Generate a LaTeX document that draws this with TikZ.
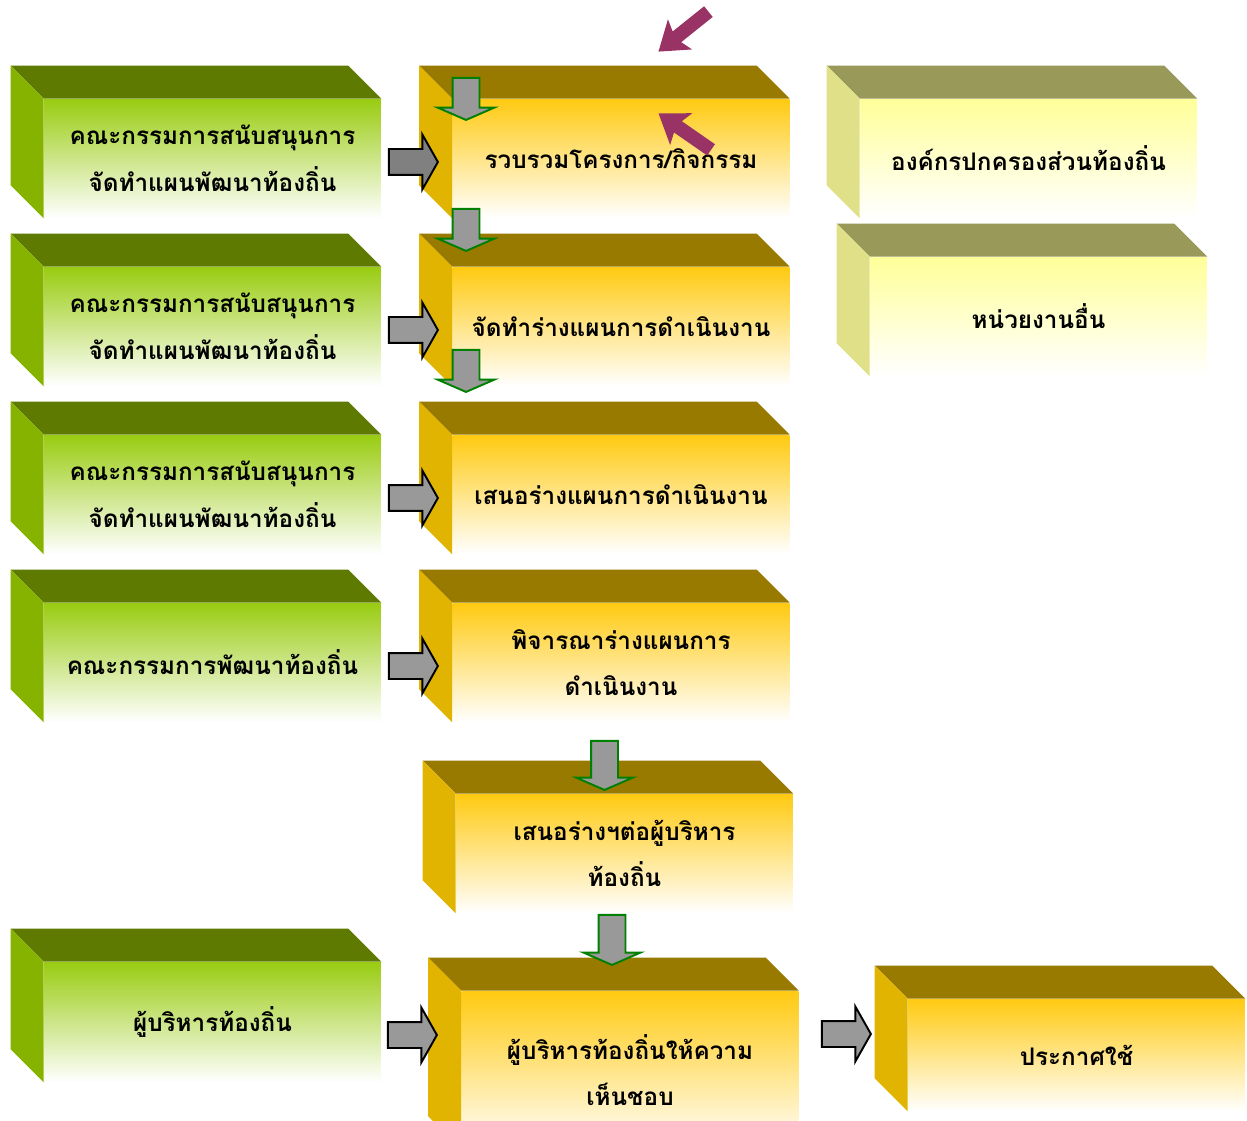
\documentclass[tikz,border=0pt]{standalone}
\usepackage{fontspec}
\newfontfamily\thaifont[Script=Thai]{Loma}
\usetikzlibrary{shapes.arrows}

\definecolor{gtop}{HTML}{5E7A00}
\definecolor{gside}{HTML}{86B300}
\definecolor{gfront}{HTML}{99CC11}
\definecolor{otop}{HTML}{997A00}
\definecolor{oside}{HTML}{E0B400}
\definecolor{ofront}{HTML}{FFCA11}
\definecolor{ytop}{HTML}{999959}
\definecolor{yside}{HTML}{E0E088}
\definecolor{yfront}{HTML}{FFFF99}
\definecolor{darkgray}{HTML}{808080}
\definecolor{lightgray}{HTML}{999999}
\definecolor{linegreen}{HTML}{008000}
\definecolor{plum}{HTML}{993366}

\begin{document}
\begin{tikzpicture}
  [
  x=0.02cm, y=-0.02cm,
  font=\thaifont\bfseries\fontsize{13.8}{26.5}\selectfont,
  front/.style={rectangle, inner sep=0pt, minimum width=6.74cm, minimum height=2.38cm, align=center},
  greenbox/.style={front, top color=gfront, bottom color=white},
  orangebox/.style={front, top color=ofront, bottom color=white},
  yellowbox/.style={front, top color=yfront, bottom color=white},
  rarrow/.style={single arrow, draw=black, line width=1.1pt, fill=lightgray, inner xsep=0pt, inner ysep=0.24cm,
    minimum height=0.98cm, single arrow head extend=0.29cm, single arrow tip angle=121, anchor=tip},
  darrow/.style={single arrow, draw=linegreen, line width=1.1pt, fill=lightgray, inner xsep=0pt, inner ysep=0.25cm,
    minimum height=0.84cm, single arrow head extend=0.3cm, single arrow tip angle=133, rotate=-90, anchor=tip},
  parrow/.style={single arrow, fill=plum, inner xsep=0pt, inner ysep=0.13cm, minimum height=1.28cm,
    single arrow head extend=0.25cm, single arrow tip angle=70, single arrow head indent=0.08cm, anchor=tip},
  ]

  \useasboundingbox (0,0) rectangle (1247,1121);

  % left column
  \foreach \y in {1,2,3} {
    \node[greenbox] (g\y) at (212.5,158.5+168*\y-168) {คณะกรรมการสนับสนุนการ\\จัดทำแผนพัฒนาท้องถิ่น};
  }
  \node[greenbox] (g4) at (212.5,662.5) {คณะกรรมการพัฒนาท้องถิ่น};
  \node[greenbox, minimum height=2.4cm] (g5) at (212.5,1022) {ผู้บริหารท้องถิ่น};

  % middle column
  \node[orangebox] (o1) at (621,158.5) {รวบรวมโครงการ/กิจกรรม};
  \node[orangebox] (o2) at (621,326.5) {จัดทำร่างแผนการดำเนินงาน};
  \node[orangebox] (o3) at (621,494.5) {เสนอร่างแผนการดำเนินงาน};
  \node[orangebox] (o4) at (621,662.5) {พิจารณาร่างแผนการ\\ดำเนินงาน};
  \node[orangebox] (o5) at (624.5,853.5) {เสนอร่างฯต่อผู้บริหาร\\ท้องถิ่น};
  \node[orangebox, minimum height=3.16cm] (o6) at (630,1070) {ผู้บริหารท้องถิ่นให้ความ\\เห็นชอบ};
  \node[orangebox, minimum height=2.24cm] (o7) at (1076.5,1055) {ประกาศใช้};

  % right column
  \node[yellowbox] (y1) at (1028.5,158.5) {องค์กรปกครองส่วนท้องถิ่น};
  \node[yellowbox] (y2) at (1038.5,316.5) {หน่วยงานอื่น};

  % top and side faces
  \foreach \n/\col in {g1/g,g2/g,g3/g,g4/g,g5/g,o1/o,o2/o,o3/o,o4/o,o5/o,o6/o,o7/o,y1/y,y2/y} {
    \fill[\col top] (\n.north west) -- ++(-33,-33) -- ([shift={(-33,-33)}]\n.north east) -- (\n.north east) -- cycle;
    \fill[\col side] (\n.north west) -- ++(-33,-33) -- ([shift={(-33,-33)}]\n.south west) -- (\n.south west) -- cycle;
  }

  % block arrows
  \node[rarrow, fill=darkgray] (a1) at (439,162) {};
  \foreach \y in {2,3,4} {
    \node[rarrow] (a\y) at (439,162+168*\y-168) {};
  }
  \node[rarrow] (a5) at (438,1035) {};
  \node[rarrow] (a6) at (872,1034) {};

  \node[darrow] (d1) at (466,121) {};
  \node[darrow] (d2) at (466,252) {};
  \node[darrow] (d3) at (466,393) {};
  \node[darrow, minimum height=0.98cm] (d4) at (604.5,791) {};
  \node[darrow, minimum height=1cm] (d5) at (612,966) {};

  \node[parrow, rotate=218.7] (m1) at (658,52) {};
  \node[parrow, rotate=145.2] (m2) at (658,113) {};
\end{tikzpicture}
\end{document}
